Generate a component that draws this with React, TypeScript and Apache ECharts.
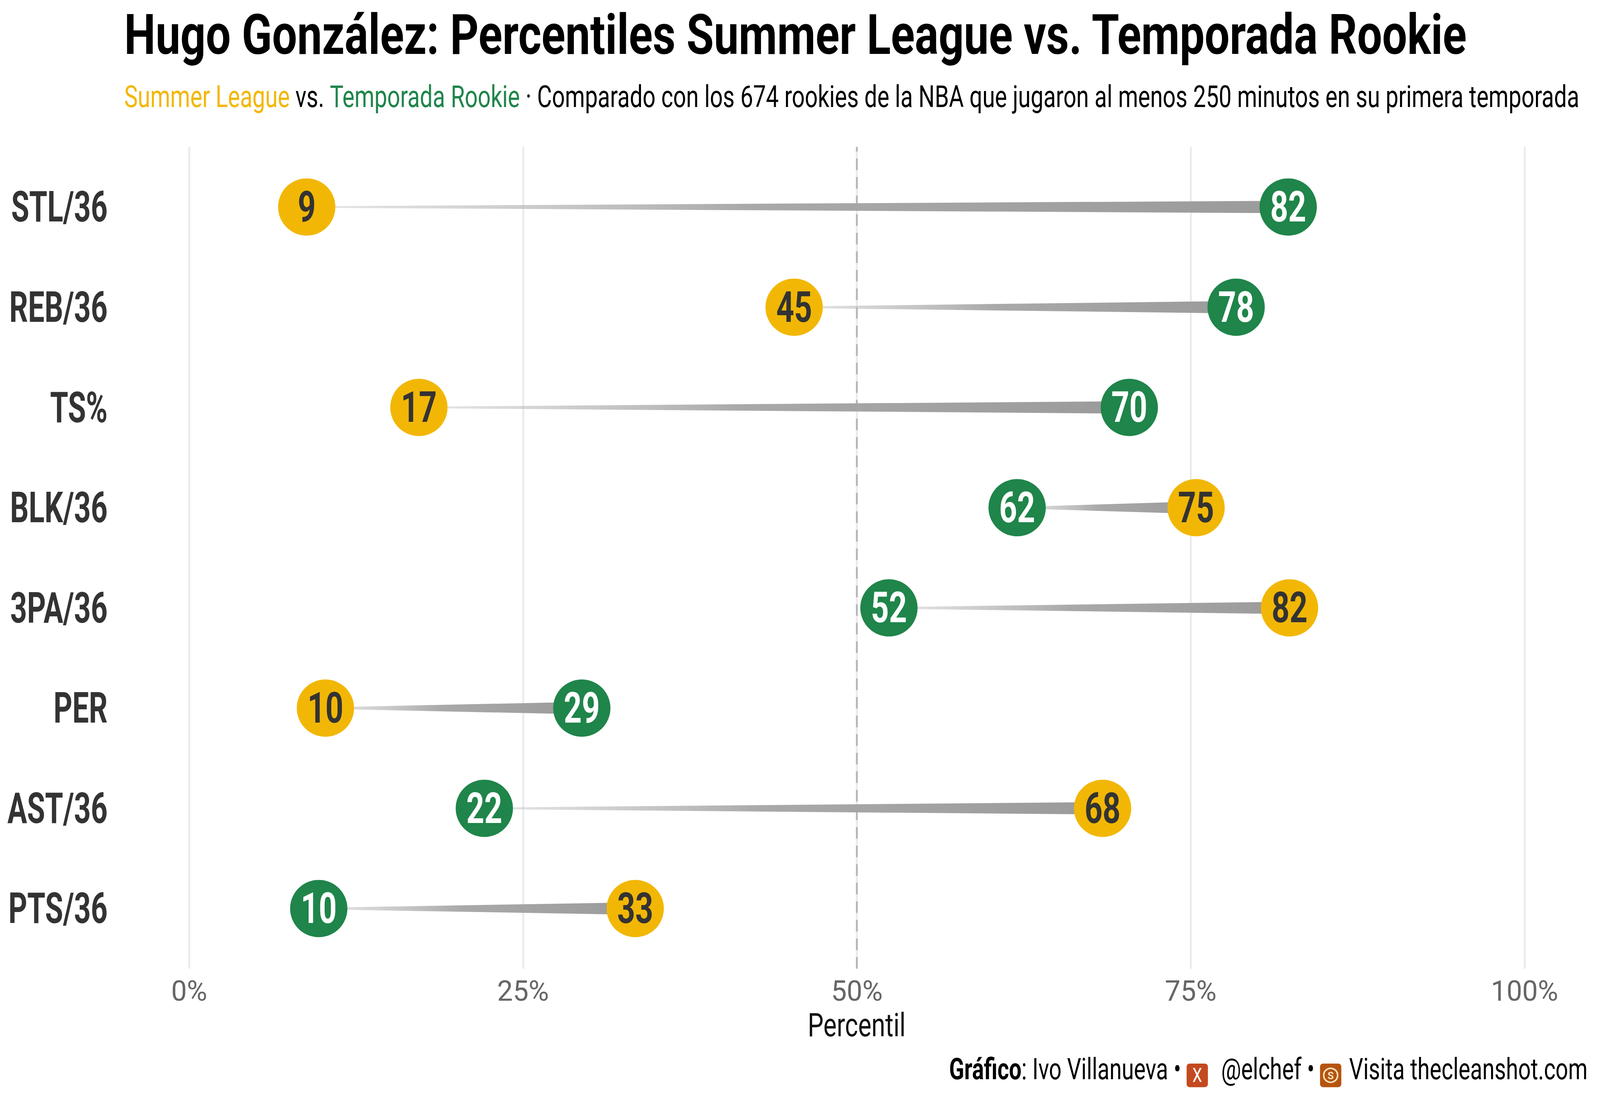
import React, { useEffect, useRef } from 'react'
import * as echarts from 'echarts'

// categorías de abajo hacia arriba
const categories = ['PTS/36', 'AST/36', 'PER', '3PA/36', 'BLK/36', 'TS%', 'REB/36', 'STL/36']
const summerValues = [33.4, 68.4, 10.2, 82.4, 75.4, 17.2, 45.3, 8.8]
const rookieValues = [9.7, 22.1, 29.4, 52.4, 62.0, 70.4, 78.4, 82.3]
const xTicks = [0, 25, 50, 75, 100]

const TITLE = 'Hugo González: Percentiles Summer League vs. Temporada Rookie'
const SUB_A = 'Summer League'
const SUB_B = ' vs. '
const SUB_C = 'Temporada Rookie'
const SUB_D = ' · Comparado con los 674 rookies de la NBA que jugaron al menos 250 minutos en su primera temporada'

const YELLOW = '#F2B705'
const GREEN = '#1F854A'
const FONT = 'Roboto'

// medir texto para comprimirlo horizontalmente (no hay fuente condensada)
const ctx = document.createElement('canvas').getContext('2d') as CanvasRenderingContext2D
const measure = (text: string, size: number, weight = 'normal') => {
  ctx.font = `${weight} ${size}px ${FONT}`
  return ctx.measureText(text).width
}

const App: React.FC = () => {
  const chartRef = useRef<HTMLDivElement>(null)

  useEffect(() => {
    if (!chartRef.current) return
    document.body.style.margin = '0'
    const chart = echarts.init(chartRef.current, undefined, { renderer: 'svg' })

    // todo está medido sobre 4135x2806; se escala al tamaño real
    const W = chart.getWidth()
    const H = chart.getHeight()
    const sx = W / 4135
    const sy = H / 2806
    const k = Math.min(sx, sy)
    const X = (v: number) => v * sx
    const Y = (v: number) => v * sy
    const S = (v: number) => v * k

    const titleScale = 3473 / measure(TITLE, 145, 'bold')
    const subScale = 3762 / measure(SUB_A + SUB_B + SUB_C + SUB_D, 79)
    const yLabScale = 249 / measure('STL/36', 111, 'bold')
    const numScale = 93 / measure('62', 111, 'bold')
    const pctScale = 253 / measure('Percentil', 84)

    // pie de gráfico, armado de izquierda a derecha
    const capSize = 77
    const capPieces: { t?: string; bold?: boolean; icon?: string }[] = [
      { t: 'Gráfico', bold: true },
      { t: ': Ivo Villanueva • ' },
      { icon: 'x' },
      { t: '  @elchef • ' },
      { icon: 'c' },
      { t: ' Visita thecleanshot.com' },
    ]
    const iconW = 61
    const capTextW = capPieces.reduce(
      (s, p) => s + (p.t ? measure(p.t, capSize, p.bold ? 'bold' : 'normal') : 0),
      0
    )
    const capScale = (1650 - 2 * iconW) / capTextW
    let cx = 2453
    const capY = 2737
    const captionEls: any[] = []
    capPieces.forEach((p) => {
      if (p.t) {
        captionEls.push({
          type: 'text',
          x: X(cx),
          y: Y(capY),
          scaleX: capScale,
          style: {
            text: p.t,
            fontSize: S(capSize),
            fontWeight: p.bold ? 'bold' : 'normal',
            fontFamily: FONT,
            fill: '#000000',
            align: 'left',
            verticalAlign: 'middle',
          },
        })
        cx += measure(p.t, capSize, p.bold ? 'bold' : 'normal') * capScale
      } else if (p.icon === 'x') {
        captionEls.push({
          type: 'rect',
          shape: { x: X(cx), y: Y(capY - 14), width: S(iconW - 6), height: S(iconW), r: S(8) },
          style: { fill: '#C4491F' },
        })
        captionEls.push({
          type: 'text',
          x: X(cx + (iconW - 6) / 2),
          y: Y(capY + 16),
          scaleX: 0.8,
          style: {
            text: 'X',
            fontSize: S(50),
            fontFamily: FONT,
            fill: '#ffffff',
            align: 'center',
            verticalAlign: 'middle',
          },
        })
        cx += iconW
      } else {
        captionEls.push({
          type: 'rect',
          shape: { x: X(cx), y: Y(capY - 14), width: S(iconW - 6), height: S(iconW), r: S(8) },
          style: { fill: '#B5540E' },
        })
        captionEls.push({
          type: 'circle',
          shape: { cx: X(cx + (iconW - 6) / 2), cy: Y(capY + 16), r: S(18) },
          style: { fill: 'none', stroke: '#f6e3c0', lineWidth: S(4) },
        })
        captionEls.push({
          type: 'text',
          x: X(cx + (iconW - 6) / 2),
          y: Y(capY + 17),
          style: {
            text: 'S',
            fontSize: S(26),
            fontWeight: 'bold',
            fontFamily: FONT,
            fill: '#f6e3c0',
            align: 'center',
            verticalAlign: 'middle',
          },
        })
        cx += iconW
      }
    })

    const segData = categories.map((_, i) => [
      Math.min(summerValues[i], rookieValues[i]),
      Math.max(summerValues[i], rookieValues[i]),
      i,
    ])

    const dotSeries = (name: string, values: number[], color: string, textColor: string) => ({
      name,
      type: 'custom',
      data: values.map((v, i) => [v, i]),
      encode: { x: 0, y: 1 },
      z: 5,
      renderItem: (_params: any, api: any) => {
        const v = api.value(0)
        const p = api.coord([v, api.value(1)])
        return {
          type: 'group',
          children: [
            { type: 'circle', shape: { cx: p[0], cy: p[1], r: S(74) }, style: { fill: color } },
            {
              type: 'text',
              x: p[0],
              y: p[1],
              scaleX: numScale,
              style: {
                text: String(Math.round(v)),
                fontSize: S(111),
                fontWeight: 'bold',
                fontFamily: FONT,
                fill: textColor,
                align: 'center',
                verticalAlign: 'middle',
              },
            },
          ],
        }
      },
    })

    const option = {
      animation: false,
      backgroundColor: '#ffffff',
      textStyle: { fontFamily: FONT },
      grid: {
        left: X(489),
        right: X(195),
        top: Y(376),
        bottom: Y(326),
        containLabel: false,
        outerBoundsMode: 'none',
      },
      xAxis: {
        type: 'value',
        min: 0,
        max: 100,
        interval: 25,
        axisLine: { show: false },
        axisTick: { show: false },
        axisLabel: {
          formatter: (v: number) => (xTicks.includes(v) ? v + '%' : ''),
          color: '#666666',
          fontSize: S(72),
          margin: S(22),
          fontFamily: FONT,
        },
        splitLine: { lineStyle: { color: '#ebebeb', width: S(5) } },
      },
      yAxis: {
        type: 'value',
        min: -0.6,
        max: 7.6,
        axisLine: { show: false },
        axisTick: { show: false },
        splitLine: { show: false },
        axisLabel: { show: false },
      },
      graphic: [
        {
          type: 'text',
          x: X(321),
          y: Y(89),
          scaleX: titleScale,
          style: {
            text: TITLE,
            fontSize: S(145),
            fontWeight: 'bold',
            fontFamily: FONT,
            fill: '#000000',
            align: 'left',
            verticalAlign: 'middle',
          },
        },
        {
          type: 'text',
          x: X(321),
          y: Y(247),
          scaleX: subScale,
          style: {
            text: `{y|${SUB_A}}${SUB_B}{g|${SUB_C}}${SUB_D}`,
            fontSize: S(79),
            fontFamily: FONT,
            fill: '#000000',
            align: 'left',
            verticalAlign: 'middle',
            rich: {
              y: { fill: YELLOW, fontSize: S(79), fontFamily: FONT },
              g: { fill: GREEN, fontSize: S(79), fontFamily: FONT },
            },
          },
        },
        {
          type: 'text',
          x: X(2214),
          y: Y(2624),
          scaleX: pctScale,
          style: {
            text: 'Percentil',
            fontSize: S(84),
            fontFamily: FONT,
            fill: '#111111',
            align: 'center',
            verticalAlign: 'middle',
          },
        },
        ...captionEls,
      ],
      series: [
        {
          name: 'Cambio',
          type: 'custom',
          data: segData,
          encode: { x: [0, 1], y: 2 },
          z: 2,
          silent: true,
          renderItem: (_params: any, api: any) => {
            const a = api.coord([api.value(0), api.value(2)])
            const b = api.coord([api.value(1), api.value(2)])
            return {
              type: 'polygon',
              shape: {
                points: [
                  [a[0], a[1] - S(2)],
                  [b[0], b[1] - S(16)],
                  [b[0], b[1] + S(16)],
                  [a[0], a[1] + S(2)],
                ],
              },
              style: {
                fill: new echarts.graphic.LinearGradient(0, 0, 1, 0, [
                  { offset: 0, color: 'rgba(200,200,200,0.45)' },
                  { offset: 0.45, color: '#a9a9a9' },
                  { offset: 1, color: '#9b9b9b' },
                ]),
              },
            }
          },
          markLine: {
            silent: true,
            symbol: ['none', 'none'],
            label: { show: false },
            lineStyle: { color: '#b8b8b8', width: S(5), type: [S(30), S(18)] },
            data: [{ xAxis: 50 }],
            z: 1,
          },
        },
        {
          name: 'Etiquetas',
          type: 'custom',
          data: categories.map((_, i) => [0, i]),
          encode: { x: 0, y: 1 },
          silent: true,
          clip: false,
          renderItem: (params: any, api: any) => {
            const p = api.coord([0, api.value(1)])
            return {
              type: 'text',
              x: p[0] - X(211),
              y: p[1],
              scaleX: yLabScale,
              style: {
                text: categories[params.dataIndex],
                fontSize: S(111),
                fontWeight: 'bold',
                fontFamily: FONT,
                fill: '#333333',
                align: 'right',
                verticalAlign: 'middle',
              },
            }
          },
        },
        dotSeries('Temporada Rookie', rookieValues, GREEN, '#ffffff'),
        dotSeries('Summer League', summerValues, YELLOW, '#333333'),
      ],
    }

    chart.setOption(option)

    return () => {
      chart.dispose()
    }
  }, [])

  return (
    <div
      ref={chartRef}
      style={{ position: 'fixed', left: 0, top: 0, width: '100vw', height: '100vh' }}
    />
  )
}

export default App
